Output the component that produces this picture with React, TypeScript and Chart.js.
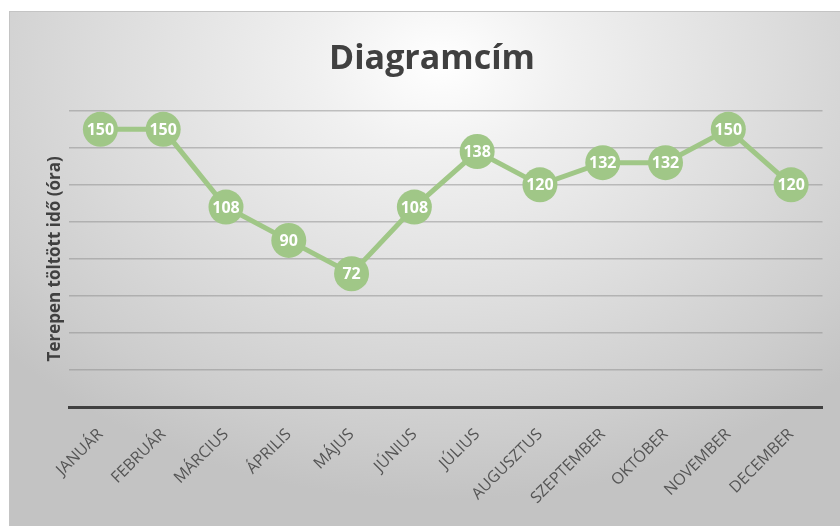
import React, { useEffect, useRef } from "react";
import { Chart, registerables } from "chart.js";

Chart.register(...registerables);

const title = "Diagramcím";
const yAxisTitle = "Terepen töltött idő (óra)";
const months = [
  "JANUÁR", "FEBRUÁR", "MÁRCIUS", "ÁPRILIS", "MÁJUS", "JÚNIUS",
  "JÚLIUS", "AUGUSZTUS", "SZEPTEMBER", "OKTÓBER", "NOVEMBER", "DECEMBER",
];
const hours = [150, 150, 108, 90, 72, 108, 138, 120, 132, 132, 150, 120];
const yMin = 0;
const yMax = 160;
const yStep = 20;

const GREEN = "#a0c787";
const FONT = "'Open Sans', 'DejaVu Sans', sans-serif";

const dataLabels = {
  id: "dataLabels",
  afterDatasetsDraw(chart: any) {
    const ctx = chart.ctx;
    const meta = chart.getDatasetMeta(0);
    ctx.save();
    ctx.fillStyle = "#ffffff";
    ctx.font = `bold 16px ${FONT}`;
    ctx.textAlign = "center";
    ctx.textBaseline = "middle";
    meta.data.forEach((el: any, i: number) => {
      ctx.fillText(String(chart.data.datasets[0].data[i]), el.x, el.y + 1);
    });
    ctx.restore();
  },
};

export default function App() {
  const ref = useRef<HTMLCanvasElement | null>(null);
  useEffect(() => {
    if (!ref.current) return;
    const chart = new Chart(ref.current, {
      type: "line",
      data: {
        labels: months,
        datasets: [
          {
            data: hours,
            borderColor: GREEN,
            backgroundColor: GREEN,
            borderWidth: 5,
            pointRadius: 17.5,
            pointHoverRadius: 17.5,
            pointBackgroundColor: GREEN,
            pointBorderWidth: 0,
            tension: 0,
            clip: false as any,
          },
        ],
      },
      options: {
        animation: false,
        responsive: false,
        maintainAspectRatio: false,
        layout: { padding: { left: 31, right: 17, top: 0, bottom: 0 } },
        plugins: {
          legend: { display: false },
          tooltip: { enabled: false },
          title: {
            display: true,
            text: title,
            color: "#404040",
            font: { family: FONT, size: 34, weight: "bold" },
            padding: { top: 27, bottom: 31 },
          },
        },
        scales: {
          x: {
            offset: true,
            grid: { display: false },
            border: { display: true, color: "#404040", width: 3 },
            ticks: {
              color: "#555555",
              font: { family: FONT, size: 16 },
              minRotation: 45,
              maxRotation: 45,
              autoSkip: false,
              padding: 10,
            },
            afterFit: (axis: any) => {
              axis.height = 119;
            },
          },
          y: {
            min: yMin,
            max: yMax,
            ticks: { display: false, stepSize: yStep },
            grid: {
              color: "rgba(140,140,140,0.5)",
              lineWidth: 1.5,
              drawTicks: false,
            },
            border: { display: false },
            title: {
              display: true,
              text: yAxisTitle,
              color: "#404040",
              font: { family: FONT, size: 17, weight: "bold" },
              padding: { top: 4, bottom: 4 },
            },
            afterFit: (axis: any) => {
              axis.width = 28;
            },
          },
        },
      },
      plugins: [dataLabels],
    });
    return () => chart.destroy();
  }, []);

  return (
    <div
      style={{
        position: "fixed",
        left: 9,
        top: 11,
        width: 831,
        height: 515,
        borderTop: "1px solid #c4c4c4",
        borderLeft: "1px solid #c4c4c4",
        boxSizing: "border-box",
        background:
          "radial-gradient(ellipse 70% 85% at 52% 10%, #ffffff 0%, #f0f0f0 22%, #dedede 55%, #cdcdcd 85%, #c3c3c3 100%)",
      }}
    >
      <canvas ref={ref} width={830} height={514} style={{ display: "block" }} />
    </div>
  );
}
